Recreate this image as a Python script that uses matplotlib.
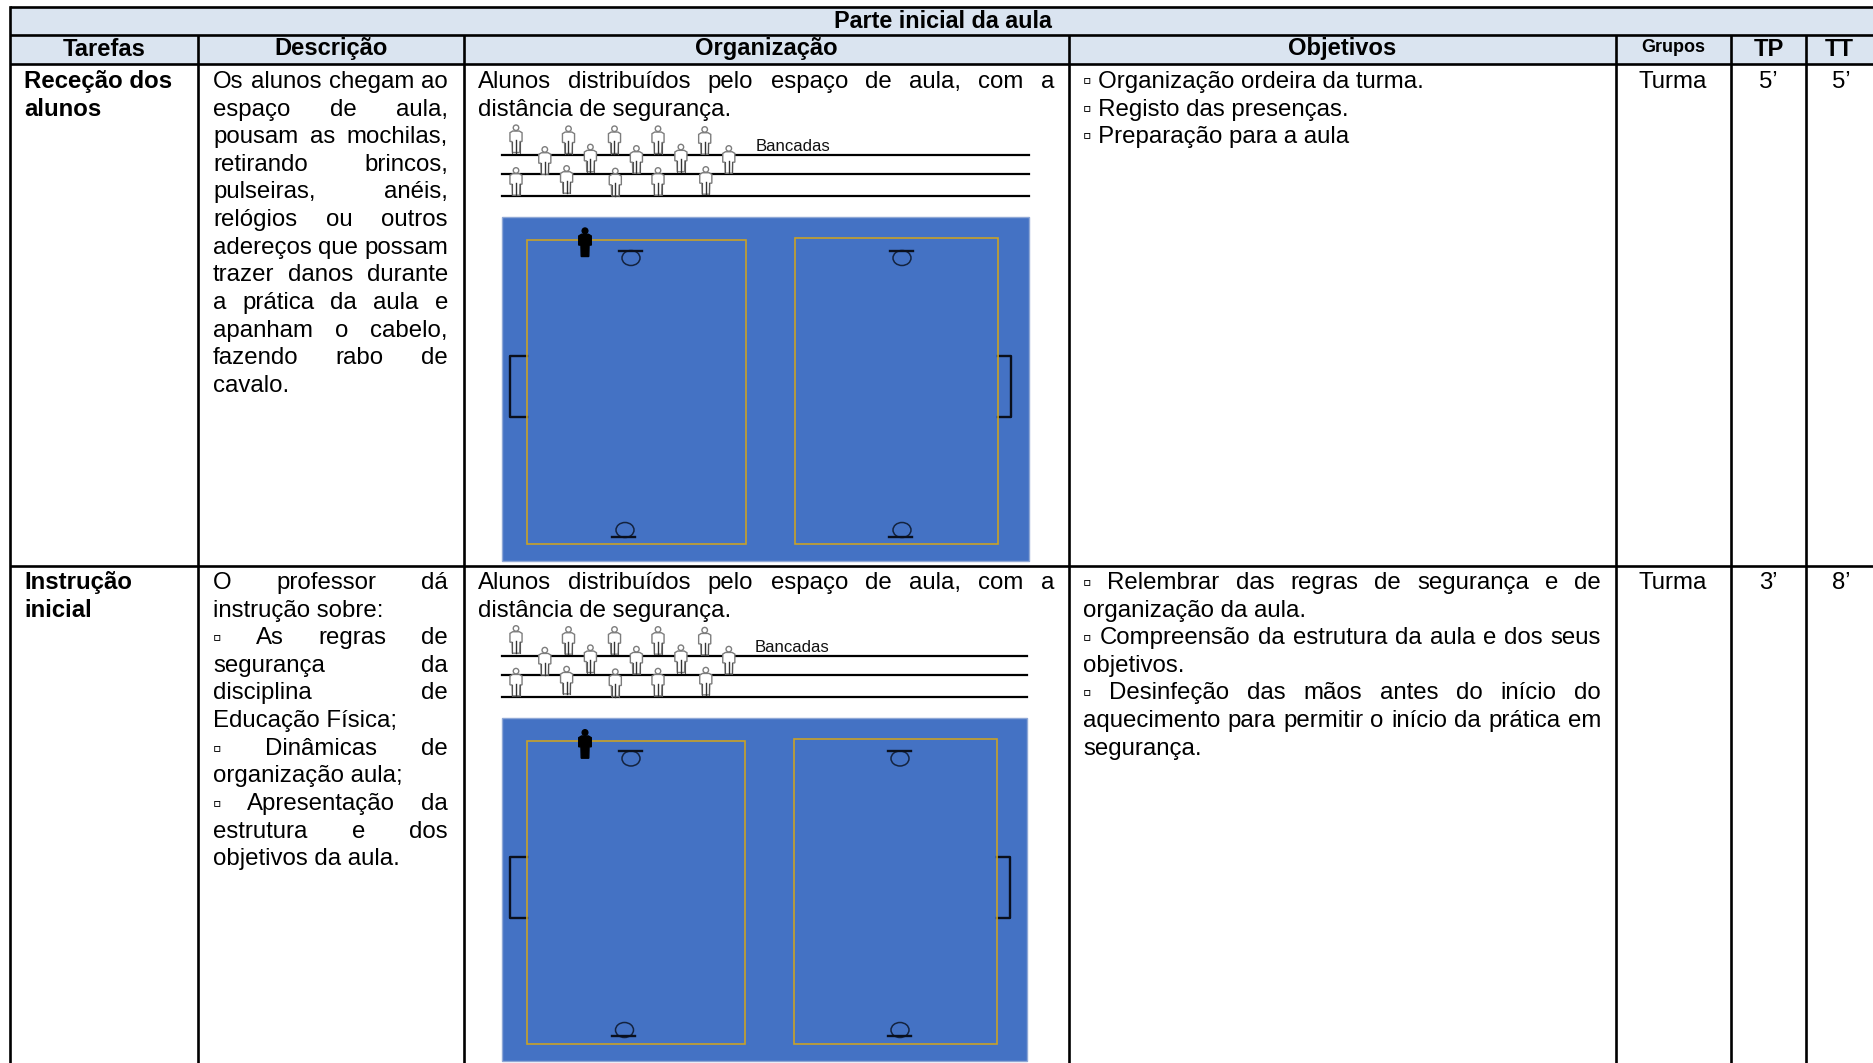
import matplotlib
matplotlib.use("Agg")
import matplotlib.pyplot as plt
from matplotlib.patches import Rectangle, Ellipse, Circle, Polygon

plt.rcParams['font.family'] = ['Liberation Sans', 'DejaVu Sans']

W, H = 1874, 1063
SIZE = 17.3

# table text
TITLE = "Parte inicial da aula"
HEADERS = ["Tarefas", "Descrição", "Organização", "Objetivos", "Grupos", "TP", "TT"]
TASKS = [["Receção dos", "alunos"], ["Instrução", "inicial"]]
GROUPS = ["Turma", "Turma"]
TP = ["5’", "3’"]
TT = ["5’", "8’"]
BENCH_LABEL = "Bancadas"

# (line, justified)
DESC_1 = [("Os alunos chegam ao", 1), ("espaço de aula,", 1), ("pousam as mochilas,", 1),
          ("retirando brincos,", 1), ("pulseiras, anéis,", 1), ("relógios ou outros", 1),
          ("adereços que possam", 1), ("trazer danos durante", 1), ("a prática da aula e", 1),
          ("apanham o cabelo,", 1), ("fazendo rabo de", 1), ("cavalo.", 0)]
DESC_2 = [("O professor dá", 1), ("instrução sobre:", 0), ("▫ As regras de", 1),
          ("segurança da", 1), ("disciplina de", 1), ("Educação Física;", 0),
          ("▫ Dinâmicas de", 1), ("organização aula;", 0), ("▫ Apresentação da", 1),
          ("estrutura e dos", 1), ("objetivos da aula.", 0)]
ORG = [("Alunos distribuídos pelo espaço de aula, com a", 1), ("distância de segurança.", 0)]
OBJ_1 = [("▫ Organização ordeira da turma.", 0), ("▫ Registo das presenças.", 0),
         ("▫ Preparação para a aula", 0)]
OBJ_2 = [("▫ Relembrar das regras de segurança e de", 1), ("organização da aula.", 0),
         ("▫ Compreensão da estrutura da aula e dos seus", 1), ("objetivos.", 0),
         ("▫ Desinfeção das mãos antes do início do", 1),
         ("aquecimento para permitir o início da prática em", 1), ("segurança.", 0)]

# people on the benches, x centre and top of head (first row of the table)
STUDENT_X = [516, 568.5, 614.5, 658, 704.7,
             544.8, 590.4, 636.4, 680.9, 728.8,
             516, 566.6, 615.3, 658, 705.8]
STUDENT_TOP = [125, 126, 126, 126, 126.7,
               146.7, 144.3, 145.7, 144.3, 145.7,
               167.7, 165.7, 168.3, 167.7, 166.7]

# table lines
COL_X = [10, 198, 464, 1069, 1616, 1731, 1806]
ROW_Y = [7, 35, 64, 566]

fig = plt.figure(figsize=(W / 100, H / 100), dpi=100)
ax = fig.add_axes([0, 0, 1, 1])
ax.set_xlim(0, W)
ax.set_ylim(H, 0)
ax.axis("off")
renderer = fig.canvas.get_renderer()


def text_width(s, **kw):
    t = ax.text(0, 0, s, **kw)
    w = t.get_window_extent(renderer).width
    t.remove()
    return w


def put_lines(lines, x0, x1, y0, pitch=27.62, **kw):
    for i, (line, just) in enumerate(lines):
        y = y0 + i * pitch
        if not just:
            ax.text(x0, y, line, va="baseline", ha="left", fontsize=SIZE, color="black", **kw)
            continue
        words = line.split()
        widths = [text_width(w, fontsize=SIZE, **kw) for w in words]
        gap = (x1 - x0 - sum(widths)) / (len(words) - 1)
        x = x0
        for w, wd in zip(words, widths):
            ax.text(x, y, w, va="baseline", ha="left", fontsize=SIZE, color="black", **kw)
            x += wd + gap


def person(x, top, height=27.5, face="white", edge="#7d7d7d"):
    w = height * 0.22
    body = [(-w, .28), (-w * .55, .22), (w * .55, .22), (w, .28), (w, .6), (w * .65, .6),
            (w * .6, 1), (-w * .6, 1), (-w * .65, .6), (-w, .6)]
    pts = [(x + a, top + b * height) for a, b in body]
    ax.add_patch(Polygon(pts, closed=True, fc=face, ec=edge, lw=1.0, zorder=5))
    ax.add_patch(Circle((x, top + .1 * height), height * .1, fc=face, ec=edge, lw=1.0, zorder=5))
    if face == "white":
        ax.plot([x, x], [top + .55 * height, top + height], color="#333333", lw=1.0, zorder=6)
        ax.plot([x - w * .6, x - w * .6], [top + .6 * height, top + height], color="#555555", lw=.8, zorder=6)
        ax.plot([x + w * .6, x + w * .6], [top + .6 * height, top + height], color="#555555", lw=.8, zorder=6)


def goal(bar0, bar1, cx, bar_y, cy):
    ax.add_patch(Ellipse((cx, cy), 18, 15, fc="none", ec="#14233f", lw=1.1, zorder=4))
    ax.plot([bar0, bar1], [bar_y, bar_y], color="#0a0f1c", lw=1.7, zorder=5)


def scene(dy, field, left, right, top_goals, bottom_goals, side, label_x, bench_x1):
    # benches
    for y in (155, 174.3, 196.3):
        ax.plot([502, bench_x1], [y + dy, y + dy], color="black", lw=1.6, zorder=3)
    for x, t in zip(STUDENT_X, STUDENT_TOP):
        person(x, t + dy)
    ax.text(label_x, 151 + dy, BENCH_LABEL, fontsize=12.1, va="baseline", color="#111111")
    # floor
    x0, y0, x1, y1 = field
    ax.add_patch(Rectangle((x0, y0), x1 - x0, y1 - y0, fc="#4472C4", ec="#8FA8D6", lw=1.0, zorder=2))
    for c in (left, right):
        ax.add_patch(Rectangle((c[0], c[1]), c[2] - c[0], c[3] - c[1], fc="none", ec="#C9A227", lw=1.2, zorder=4))
    for g in top_goals + bottom_goals:
        goal(*g)
    # side goals
    ax.plot([left[0], side[0], side[0], left[0]], [side[2], side[2], side[3], side[3]],
            color="#0a0f1c", lw=1.7, zorder=3, solid_joinstyle="round")
    ax.plot([right[2], side[1], side[1], right[2]], [side[2], side[2], side[3], side[3]],
            color="#0a0f1c", lw=1.7, zorder=3, solid_joinstyle="round")
    # teacher
    person(585, 228 + dy + (1 if dy else 0), height=28.5, face="black", edge="black")


# header fill
ax.add_patch(Rectangle((COL_X[0], ROW_Y[0]), W - COL_X[0], ROW_Y[2] - ROW_Y[0], fc="#DAE4F0", ec="none", zorder=0))

# scenes
scene(0, (502, 217, 1029, 561), (527, 240, 746, 544), (795, 238, 998, 544),
      [(619, 642, 631, 250.7, 258), (890, 913, 902, 250.7, 258)],
      [(612, 635, 625, 536.7, 530), (889.5, 912.5, 902, 536.7, 530)],
      (510, 1011, 356, 417), 755.5, 1029)
scene(500.7, (502, 717.7, 1027.5, 1061), (527, 741, 745, 1044), (794, 739, 997, 1044),
      [(619, 642, 631, 751, 758.5), (888, 911, 900, 751, 758.5)],
      [(612, 635, 624.5, 1036, 1030), (888, 911, 900, 1036, 1030)],
      (510, 1010, 856.7, 918), 754.5, 1027.5)

# grid
LW = 1.9
for y in ROW_Y:
    ax.plot([COL_X[0], W], [y, y], color="black", lw=LW, zorder=7, solid_capstyle="butt")
ax.plot([COL_X[0], COL_X[0]], [ROW_Y[0], H], color="black", lw=LW, zorder=7, solid_capstyle="projecting")
for x in COL_X[1:]:
    ax.plot([x, x], [ROW_Y[1], H], color="black", lw=LW, zorder=7, solid_capstyle="butt")

# headers
ax.text(943, 22, TITLE, ha="center", va="center", fontsize=SIZE - .5, fontweight="bold")
edges = COL_X + [W - 1]
for i, h in enumerate(HEADERS):
    fs = 13 if h == "Grupos" else SIZE - .2
    y = 49 if h != "Grupos" else 48
    ax.text((edges[i] + edges[i + 1]) / 2, y, h, ha="center", va="center", fontsize=fs, fontweight="bold")

# body
BASE = [88, 589]
for b, task in zip(BASE, TASKS):
    put_lines([(t, 0) for t in task], 24, 190, b, fontweight="bold")
put_lines(DESC_1, 213, 448, BASE[0])
put_lines(DESC_2, 213, 448, BASE[1])
put_lines(ORG, 478, 1054, BASE[0])
put_lines(ORG, 478, 1054, BASE[1])
put_lines(OBJ_1, 1083, 1601, BASE[0])
put_lines(OBJ_2, 1083, 1601, BASE[1])
for i, b in enumerate(BASE):
    ax.text(1673, b, GROUPS[i], ha="center", va="baseline", fontsize=SIZE)
    ax.text(1768, b, TP[i], ha="center", va="baseline", fontsize=SIZE)
    ax.text(1841, b, TT[i], ha="center", va="baseline", fontsize=SIZE)

fig.savefig("out.png", dpi=100, facecolor="white")
